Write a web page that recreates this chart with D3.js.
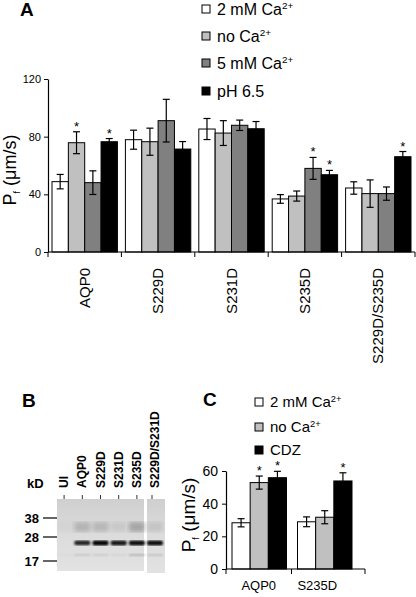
<!DOCTYPE html>
<html><head><meta charset="utf-8">
<script src="https://cdn.jsdelivr.net/npm/d3@7"></script>
<style>body{margin:0;background:#fff}svg{display:block;font-family:"Liberation Sans",Arial,sans-serif}</style>
</head><body>
<svg id="c" width="416" height="597"></svg>
<script>
// ---- Panel A data ----
const catsA = ["AQP0","S229D","S231D","S235D","S229D/S235D"];
const seriesA = ["2 mM Ca","no Ca","5 mM Ca","pH 6.5"];
const supA = ["2+","2+","2+",""];
const colorsA = ["#ffffff","#c0c0c0","#808080","#000000"];
const valA_2mM  = [48.8, 77.9, 85.3, 36.8, 44.4];
const valA_noCa = [75.8, 76.5, 82.5, 38.8, 40.5];
const valA_5mM  = [48.1, 91.1, 87.9, 58.0, 40.5];
const valA_pH   = [76.5, 71.4, 85.5, 53.6, 66.1];
const errA_2mM  = [5.0, 6.6, 7.3, 3.0, 4.3];
const errA_noCa = [7.6, 9.4, 8.6, 3.5, 9.5];
const errA_5mM  = [8.2, 14.8, 3.6, 7.6, 4.6];
const errA_pH   = [2.2, 5.2, 5.0, 3.0, 3.6];
const sigA_2mM  = [0,0,0,0,0];
const sigA_noCa = [1,0,0,0,0];
const sigA_5mM  = [0,0,0,1,0];
const sigA_pH   = [1,0,0,1,1];
const ticksA = [0,40,80,120];

// ---- Panel C data ----
const catsC = ["AQP0","S235D"];
const seriesC = ["2 mM Ca","no Ca","CDZ"];
const supC = ["2+","2+",""];
const colorsC = ["#ffffff","#c0c0c0","#000000"];
const valC_2mM = [28.3, 28.9];
const valC_noCa = [52.9, 31.7];
const valC_CDZ = [55.9, 53.9];
const errC_2mM = [2.5, 3.0];
const errC_noCa = [4.0, 4.0];
const errC_CDZ = [3.9, 5.0];
const sigC_2mM = [0,0];
const sigC_noCa = [1,0];
const sigC_CDZ = [1,1];
const ticksC = [0,20,40,60];

// ---- Panel B (gel) data ----
const gelLanes = ["UI","AQP0","S229D","S231D","S235D","S229D/S231D"];
const mainBand = [0.0, 0.85, 1.0, 0.9, 0.95, 0.95];
const smearBand = [0.04, 0.28, 0.25, 0.12, 0.38, 0.15];
const lowBand = [0.03, 0.18, 0.15, 0.08, 0.3, 0.2];
const markers = [38, 28, 17];

const svg = d3.select("#c");
const F = '"Liberation Sans",Arial,sans-serif';

function legend(g, names, sups, colors, x, ys, fs) {
  names.forEach((n,i)=>{
    g.append("rect").attr("x",x).attr("y",ys[i]-4).attr("width",8).attr("height",8)
      .attr("fill",colors[i]).attr("stroke","#000").attr("stroke-width",1);
    const t = g.append("text").attr("x",x+15).attr("y",ys[i]+fs*0.36).attr("font-size",fs).text(n);
    if (sups[i]) t.append("tspan").attr("font-size",fs*0.62).attr("dy",-fs*0.38).text(sups[i]);
  });
}

function bars(g, cats, vals, errs, sigs, colors, x0, x1, y, starFs) {
  cats.forEach((c,ci)=>{
    vals.forEach((arr,si)=>{
      const v = arr[ci], e = errs[si][ci];
      const bx = x0(c) + x1(si), bw = x1.bandwidth();
      g.append("rect").attr("x",bx).attr("y",y(v)).attr("width",bw).attr("height",y(0)-y(v))
        .attr("fill",colors[si]).attr("stroke","#000").attr("stroke-width",1);
      const cx = bx + bw/2;
      const stroke = colors[si]==="#000000" ? "#000" : "#000";
      g.append("line").attr("x1",cx).attr("x2",cx).attr("y1",y(v+e)).attr("y2",y(v-e)).attr("stroke",stroke).attr("stroke-width",1.2);
      [v+e, v-e].forEach(w=>g.append("line").attr("x1",cx-3.5).attr("x2",cx+3.5).attr("y1",y(w)).attr("y2",y(w)).attr("stroke",stroke).attr("stroke-width",1.2));
      if (sigs[si][ci]) g.append("text").attr("x",cx).attr("y",y(v+e)-1).attr("text-anchor","middle")
        .attr("font-size",starFs).text("*");
    });
  });
}

// ===== Panel A =====
const gA = svg.append("g");
gA.append("text").attr("x",20).attr("y",16).attr("font-size",19).attr("font-weight","bold").text("A");
legend(gA, seriesA, supA, colorsA, 202, [9,36,63,91], 16);
const yA = d3.scaleLinear().domain([0,120]).range([252,79]);
const xA = d3.scaleBand().domain(catsA).range([48,415]);
const x1A = d3.scaleBand().domain(d3.range(4)).range([4, xA.bandwidth()-4]);
bars(gA, catsA, [valA_2mM,valA_noCa,valA_5mM,valA_pH], [errA_2mM,errA_noCa,errA_5mM,errA_pH],
  [sigA_2mM,sigA_noCa,sigA_5mM,sigA_pH], colorsA, xA, x1A, yA, 13);
const axA = gA.append("g").attr("transform","translate(48,0)")
  .call(d3.axisLeft(yA).tickValues(ticksA).tickSize(4).tickSizeOuter(0));
axA.select(".domain").attr("stroke-width",1.2);
axA.selectAll("text").attr("font-size",11).attr("font-family",F).attr("x",-7);
const xAx = gA.append("g");
xAx.append("line").attr("x1",48).attr("x2",415).attr("y1",252).attr("y2",252).attr("stroke","#000").attr("stroke-width",1.2);
catsA.concat([null]).forEach((c,i)=>{
  const xx = c ? xA(c) : xA.range()[1];
  xAx.append("line").attr("x1",xx).attr("x2",xx).attr("y1",252).attr("y2",257).attr("stroke","#000");
});
catsA.forEach(c=>{
  const cx = xA(c)+xA.bandwidth()/2;
  gA.append("text").attr("transform",`translate(${cx+5},268) rotate(-90)`).attr("text-anchor","end")
    .attr("font-size",15).text(c);
});
const ylA = gA.append("text").attr("transform","translate(16,170) rotate(-90)").attr("text-anchor","middle").attr("font-size",18);
ylA.append("tspan").text("P");
ylA.append("tspan").attr("font-size",9).attr("dy",4).text("f");
ylA.append("tspan").attr("dy",-4).text(" (μm/s)");

// ===== Panel B =====
const gB = svg.append("g");
gB.append("text").attr("x",22).attr("y",407).attr("font-size",19).attr("font-weight","bold").text("B");
const defs = svg.append("defs");
defs.append("filter").attr("id","blur").append("feGaussianBlur").attr("stdDeviation",0.8);
defs.append("filter").attr("id","blur2").append("feGaussianBlur").attr("stdDeviation",2);
const gr = defs.append("linearGradient").attr("id","gelg").attr("x1",0).attr("x2",0).attr("y1",0).attr("y2",1);
gr.append("stop").attr("offset","0%").attr("stop-color","#cfcfcf");
gr.append("stop").attr("offset","50%").attr("stop-color","#dcdcdc");
gr.append("stop").attr("offset","100%").attr("stop-color","#e2e2e2");
const xB = d3.scaleBand().domain(gelLanes.slice(0,5)).range([55,146]);
const laneX = l => gelLanes.indexOf(l) < 5 ? xB(l)+xB.bandwidth()/2 : 155;
const yKD = d3.scaleLinear().domain([17,28,38]).range([561,537,518]);
gB.append("rect").attr("x",57).attr("y",499).attr("width",87).attr("height",72).attr("fill","url(#gelg)");
gB.append("rect").attr("x",147).attr("y",499).attr("width",18).attr("height",74).attr("fill","url(#gelg)");
gelLanes.forEach((l,i)=>{
  const cx = laneX(l);
  const clip = i<5 ? [57,144] : [147,165];
  const w = 16;
  if (smearBand[i]>0) gB.append("rect").attr("x",Math.max(clip[0],cx-w/2)).attr("y",522).attr("width",w).attr("height",10)
    .attr("fill","#555").attr("opacity",smearBand[i]).attr("filter","url(#blur2)");
  if (lowBand[i]>0) gB.append("rect").attr("x",Math.max(clip[0],cx-w/2)).attr("y",554).attr("width",w).attr("height",2)
    .attr("fill","#555").attr("opacity",lowBand[i]).attr("filter","url(#blur)");
  if (mainBand[i]>0) gB.append("rect").attr("x",cx-w/2).attr("y",540.5).attr("width",w).attr("height",4+mainBand[i])
    .attr("rx",2).attr("fill","#000").attr("opacity",mainBand[i]).attr("filter","url(#blur)");
  const tx = i<5 ? cx : 152;
  gB.append("line").attr("x1",tx).attr("x2",tx).attr("y1",495).attr("y2",499).attr("stroke","#333");
  gB.append("text").attr("transform",`translate(${cx+4},488) rotate(-90)`).attr("font-size",12)
    .attr("font-weight","bold").text(l);
});
markers.forEach(m=>{
  gB.append("line").attr("x1",43).attr("x2",57).attr("y1",yKD(m)).attr("y2",yKD(m)).attr("stroke","#333").attr("stroke-width",1.5);
  gB.append("text").attr("x",39).attr("y",yKD(m)+5).attr("text-anchor","end").attr("font-size",13).attr("font-weight","bold").text(m);
});
gB.append("text").attr("x",27).attr("y",488).attr("font-size",13).attr("font-weight","bold").text("kD");

// ===== Panel C =====
const gC = svg.append("g");
gC.append("text").attr("x",203).attr("y",406).attr("font-size",19).attr("font-weight","bold").text("C");
legend(gC, seriesC, supC, colorsC, 255, [402,427,450], 15);
const yC = d3.scaleLinear().domain([0,60]).range([569,471]);
const xC = d3.scaleBand().domain(catsC).range([226,357]);
const x1C = d3.scaleBand().domain(d3.range(3)).range([6, xC.bandwidth()-5]);
bars(gC, catsC, [valC_2mM,valC_noCa,valC_CDZ], [errC_2mM,errC_noCa,errC_CDZ],
  [sigC_2mM,sigC_noCa,sigC_CDZ], colorsC, xC, x1C, yC, 13);
const axC = gC.append("g").attr("transform","translate(226,0)")
  .call(d3.axisLeft(yC).tickValues(ticksC).tickSize(4).tickSizeOuter(0));
axC.select(".domain").attr("stroke-width",1.2);
axC.selectAll("text").attr("font-size",14).attr("font-family",F).attr("x",-8);
gC.append("line").attr("x1",226).attr("x2",365).attr("y1",569).attr("y2",569).attr("stroke","#000").attr("stroke-width",1.2);
[226, xC("S235D"), 365].forEach(xx=>gC.append("line").attr("x1",xx).attr("x2",xx).attr("y1",569).attr("y2",574).attr("stroke","#000"));
catsC.forEach((c,i)=>{
  const cx = xC(c)+xC.bandwidth()/2 - (i?7:0);
  gC.append("text").attr("x",cx).attr("y",590).attr("text-anchor","middle").attr("font-size",13).text(c);
});
const ylC = gC.append("text").attr("transform","translate(195,515) rotate(-90)").attr("text-anchor","middle").attr("font-size",19);
ylC.append("tspan").text("P");
ylC.append("tspan").attr("font-size",9).attr("dy",4).text("f");
ylC.append("tspan").attr("dy",-4).text(" (μm/s)");
</script>
</body></html>
